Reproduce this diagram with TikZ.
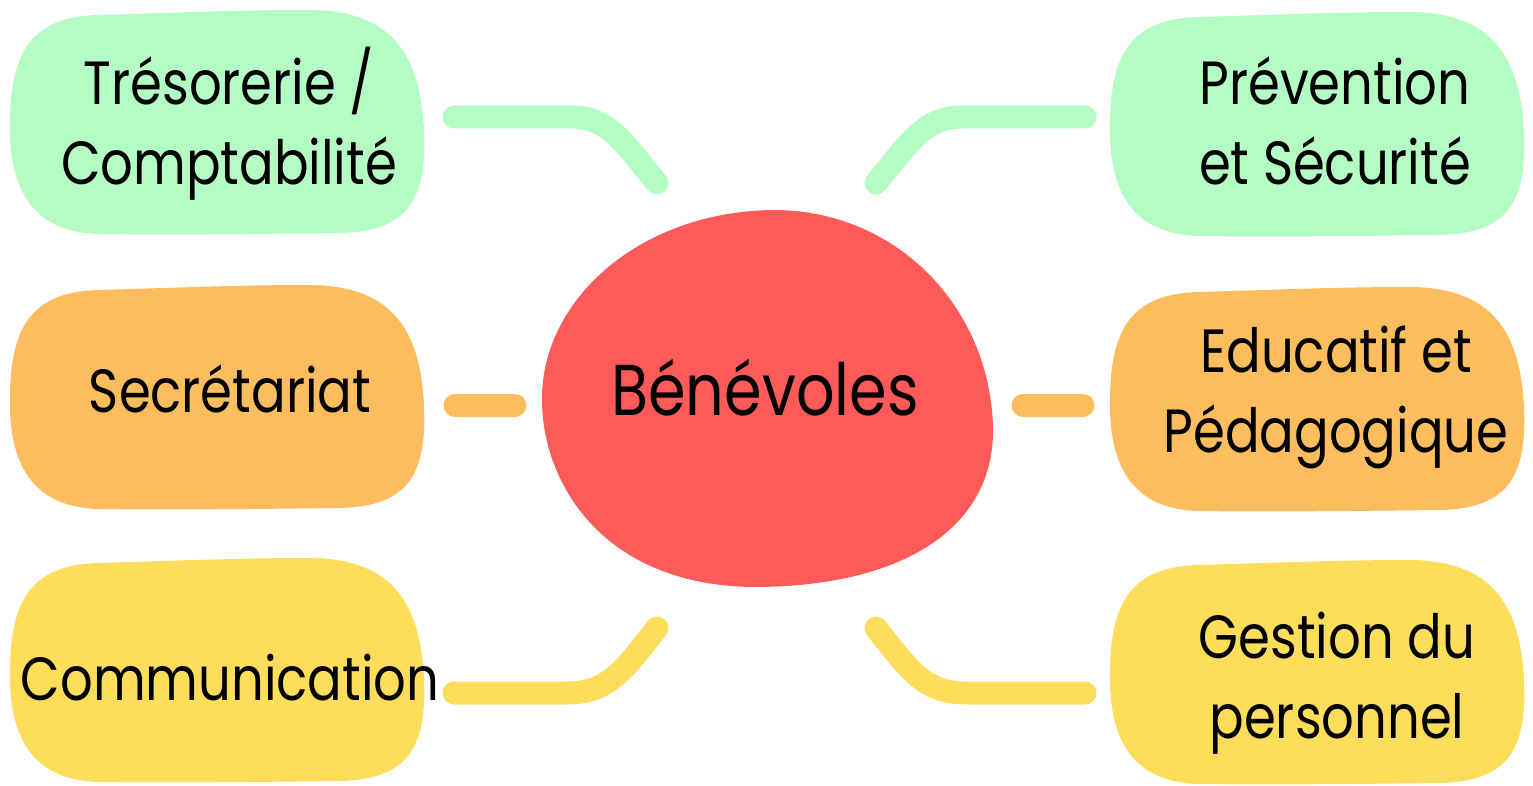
\documentclass[tikz,border=0pt]{standalone}
\usepackage{fontspec}
\setmainfont[FakeStretch=0.84]{Poppins}
\definecolor{mint}{HTML}{B3FCC3}
\definecolor{apricot}{HTML}{FCBD5E}
\definecolor{butter}{HTML}{FEDD5A}
\definecolor{coral}{HTML}{FF5A5A}
\newcommand{\myblob}[3]{%
  \fill[#3, shift={(#1,#2)}] (90,5) .. controls (160,3) and (230,0) .. (300,0)
    .. controls (380,0) and (412,40) .. (416,120)
    .. controls (419,190) and (400,222) .. (330,223)
    .. controls (250,224) and (160,225) .. (90,224)
    .. controls (25,222) and (0,180) .. (2,110)
    .. controls (3,40) and (25,7) .. (90,5) -- cycle;}
\begin{document}
\begin{tikzpicture}[x=1pt,y=-1pt,
  lbl/.style={align=center, font=\fontsize{61}{80}\selectfont, inner sep=0pt, anchor=base},
  conn/.style={line width=23pt, line cap=round}]
\useasboundingbox (0,0) rectangle (1533,786);
% blobs
\myblob{8}{10}{mint}
\myblob{8}{285}{apricot}
\myblob{8}{558}{butter}
\myblob{1108}{12}{mint}
\myblob{1108}{287}{apricot}
\myblob{1108}{560}{butter}
\fill[coral] (777,210) .. controls (900,212) and (990,310) .. (993,427)
  .. controls (995,530) and (900,587) .. (753,587)
  .. controls (600,585) and (542,480) .. (542,400)
  .. controls (541,300) and (640,210) .. (777,210) -- cycle;
% labels
\node[lbl] (treso) at (229,185) {Trésorerie /\\Comptabilité};
\node[lbl] (secr) at (230,412) {Secrétariat};
\node[lbl] (comm) at (230,700) {Communication};
\node[lbl] (prev) at (1335,185) {Prévention\\et Sécurité};
\node[lbl] (educ) at (1336,452) {Educatif et\\Pédagogique};
\node[lbl] (gest) at (1337,738) {Gestion du\\personnel};
\node[lbl, font=\fontsize{72}{80}\selectfont] (ben) at (765,415) {Bénévoles};
% connector ends
\coordinate (tl1) at (454,117); \coordinate (tl2) at (657,183);
\coordinate (tr1) at (1085,117); \coordinate (tr2) at (876,183);
\coordinate (ml1) at (455,405); \coordinate (ml2) at (515,405);
\coordinate (mr1) at (1023,405); \coordinate (mr2) at (1083,405);
\coordinate (bl1) at (454,693); \coordinate (bl2) at (657,628);
\coordinate (br1) at (1085,693); \coordinate (br2) at (876,628);
\draw[conn, mint] (tl1) -- (571,117) .. controls (610,117) and (625,145) .. (tl2);
\draw[conn, mint] (tr1) -- (962,117) .. controls (923,117) and (908,145) .. (tr2);
\draw[conn, apricot] (ml1) -- (ml2);
\draw[conn, apricot] (mr1) -- (mr2);
\draw[conn, butter] (bl1) -- (567,693) .. controls (610,693) and (625,668) .. (bl2);
\draw[conn, butter] (br1) -- (966,693) .. controls (923,693) and (908,668) .. (br2);
\end{tikzpicture}
\end{document}
